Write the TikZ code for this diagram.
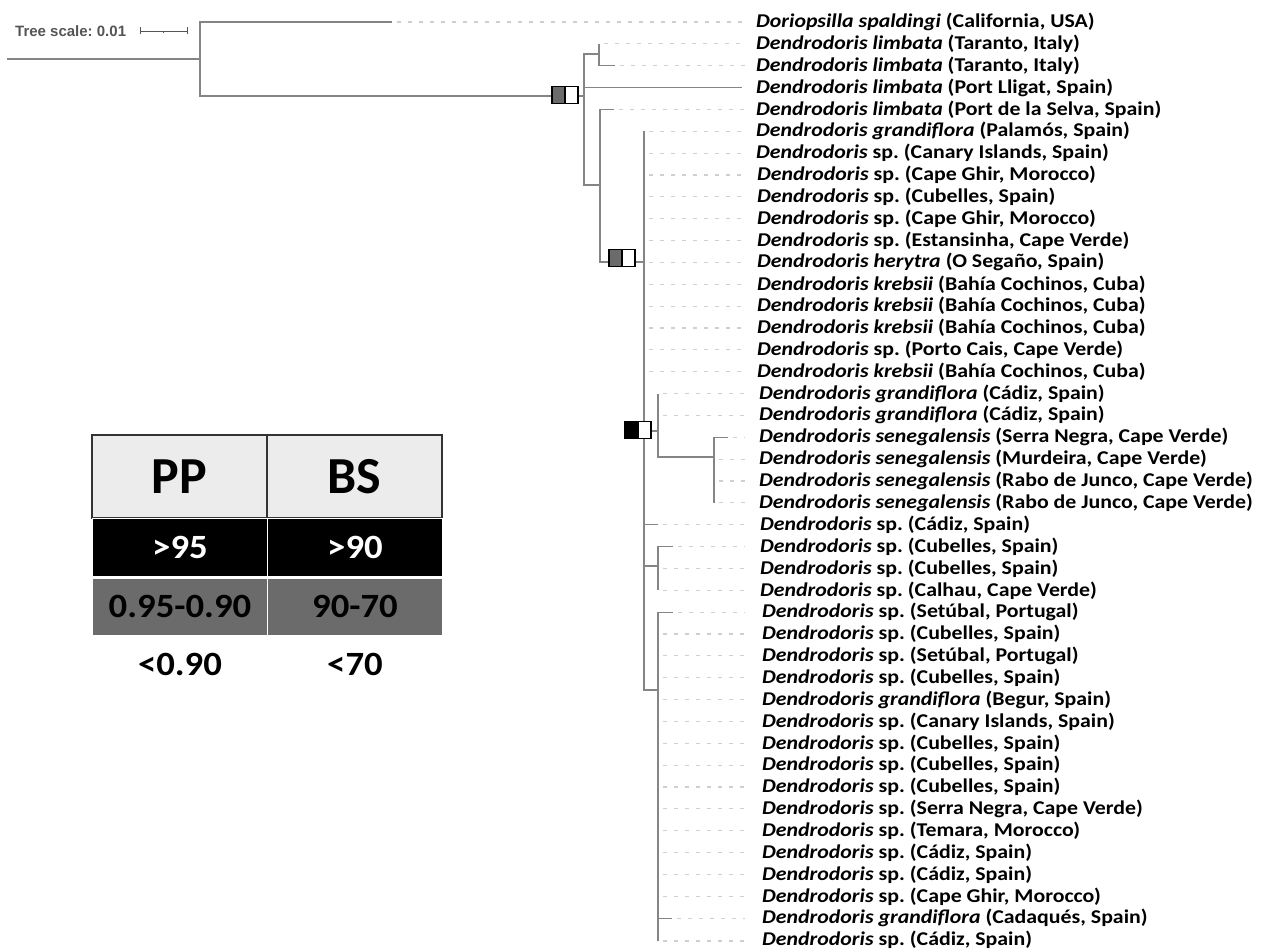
\documentclass[tikz,border=0pt]{standalone}
\usepackage{fontspec}
\setmainfont{Carlito}[BoldFont={Carlito Bold},ItalicFont={Carlito Italic},BoldItalicFont={Carlito Bold Italic}]
\newfontfamily\labfont{Carlito}[FakeStretch=1.12,BoldFont={Carlito Bold},ItalicFont={Carlito Italic},BoldItalicFont={Carlito Bold Italic}]
\newfontfamily\legfont{Carlito}[FakeStretch=1.08,BoldFont={Carlito Bold},ItalicFont={Carlito Italic},BoldItalicFont={Carlito Bold Italic}]
\newfontfamily\arialfont{Liberation Sans}[BoldFont={Liberation Sans Bold}]
\frenchspacing
\definecolor{treegray}{HTML}{858585}
\definecolor{leadgray}{HTML}{CFCFCF}
\definecolor{midgray}{HTML}{6B6B6B}
\definecolor{hdrgray}{HTML}{ECECEC}
\definecolor{scalegray}{HTML}{555555}
\newcommand\taxon[2]{\textit{#1} #2}
\begin{document}
\begin{tikzpicture}[x=1pt,y=-1pt,
  br/.style={draw=treegray,line width=1.2pt},
  lead/.style={draw=leadgray,line width=1.1pt,dash pattern=on 4pt off 7pt},
  lbl/.style={anchor=west,inner sep=0pt,font=\labfont\fontsize{19.5}{21}\selectfont\bfseries},
  half/.style={draw=black,line width=1.3pt,minimum width=13pt,minimum height=17pt,inner sep=0pt,outer sep=0pt},
  hdr/.style={draw=black!80,fill=hdrgray,line width=1.5pt,minimum width=175pt,minimum height=83pt,inner sep=0pt,font=\fontsize{52}{54}\selectfont\bfseries},
  blk/.style={draw=white,fill=black,text=white,line width=0.8pt,minimum width=175pt,minimum height=58pt,inner sep=0pt,font=\legfont\fontsize{34}{36}\selectfont\bfseries},
  gry/.style={draw=white,fill=midgray,text=black,line width=0.8pt,minimum width=175pt,minimum height=57pt,inner sep=0pt,font=\legfont\fontsize{34}{36}\selectfont\bfseries},
  plain/.style={inner sep=0pt,font=\legfont\fontsize{34}{36}\selectfont\bfseries}]
\useasboundingbox[fill=white] (0,0) rectangle (1276,952);

% ---- tree scale
\node[anchor=west,inner sep=0pt,text=scalegray,font=\arialfont\fontsize{15}{16}\selectfont\bfseries] (ts) at (15,31) {Tree scale: 0.01};
\coordinate (sa) at (140,31);
\coordinate (sb) at (187,31);
\draw[draw=scalegray,line width=0.9pt] (sa) -- (sb);
\draw[draw=scalegray,line width=0.9pt] ([yshift=-3.5pt]sa) -- ([yshift=3.5pt]sa);
\draw[draw=scalegray,line width=0.9pt] ([yshift=-3.5pt]sb) -- ([yshift=3.5pt]sb);
\draw[draw=scalegray,line width=0.9pt] (163.5,31) -- (163.5,33);

% ---- internal nodes
\coordinate (n0) at (7,59);
\coordinate (n1) at (200,59);
\coordinate (n2) at (584,96);
\coordinate (n3) at (599,54);
\coordinate (n4) at (600,185);
\coordinate (n5) at (644,262);
\coordinate (n6) at (658,431);
\coordinate (n7) at (714,457);
\coordinate (n8) at (658,566);
\coordinate (n9) at (658,690);

% ---- leaves
\coordinate (t1) at (392,22.0);
\coordinate (t2) at (599,43.9);
\coordinate (t3) at (615,65.7);
\coordinate (t4) at (742,87.6);
\coordinate (t5) at (614,109.4);
\coordinate (t6) at (644,131.3);
\coordinate (t7) at (644,153.1);
\coordinate (t8) at (644,175.0);
\coordinate (t9) at (644,196.9);
\coordinate (t10) at (644,218.7);
\coordinate (t11) at (644,240.6);
\coordinate (t12) at (644,262.4);
\coordinate (t13) at (644,284.3);
\coordinate (t14) at (644,306.1);
\coordinate (t15) at (644,328.0);
\coordinate (t16) at (644,349.9);
\coordinate (t17) at (644,371.7);
\coordinate (t18) at (658,393.6);
\coordinate (t19) at (658,415.4);
\coordinate (t20) at (728,437.3);
\coordinate (t21) at (714,459.1);
\coordinate (t22) at (714,481.0);
\coordinate (t23) at (714,502.9);
\coordinate (t24) at (658,524.7);
\coordinate (t25) at (673,546.6);
\coordinate (t26) at (658,568.4);
\coordinate (t27) at (658,590.3);
\coordinate (t28) at (673,612.1);
\coordinate (t29) at (658,634.0);
\coordinate (t30) at (658,655.9);
\coordinate (t31) at (658,677.7);
\coordinate (t32) at (658,699.6);
\coordinate (t33) at (658,721.4);
\coordinate (t34) at (658,743.3);
\coordinate (t35) at (658,765.1);
\coordinate (t36) at (658,787.0);
\coordinate (t37) at (658,808.9);
\coordinate (t38) at (658,830.7);
\coordinate (t39) at (658,852.6);
\coordinate (t40) at (658,874.4);
\coordinate (t41) at (658,896.3);
\coordinate (t42) at (672,918.1);
\coordinate (t43) at (658,941.0);
\coordinate (lx) at (745,0);

% ---- labels
\node[lbl] (l1) at (756,22.0) {\taxon{Doriopsilla spaldingi}{(California, USA)}};
\node[lbl] (l2) at (756,43.9) {\taxon{Dendrodoris limbata}{(Taranto, Italy)}};
\node[lbl] (l3) at (756,65.7) {\taxon{Dendrodoris limbata}{(Taranto, Italy)}};
\node[lbl] (l4) at (756,87.6) {\taxon{Dendrodoris limbata}{(Port Lligat, Spain)}};
\node[lbl] (l5) at (756,109.4) {\taxon{Dendrodoris limbata}{(Port de la Selva, Spain)}};
\node[lbl] (l6) at (756,131.3) {\taxon{Dendrodoris grandiflora}{(Palamós, Spain)}};
\node[lbl] (l7) at (756,153.1) {\taxon{Dendrodoris}{sp. (Canary Islands, Spain)}};
\node[lbl] (l8) at (757,175.0) {\taxon{Dendrodoris}{sp. (Cape Ghir, Morocco)}};
\node[lbl] (l9) at (757,196.9) {\taxon{Dendrodoris}{sp. (Cubelles, Spain)}};
\node[lbl] (l10) at (757,218.7) {\taxon{Dendrodoris}{sp. (Cape Ghir, Morocco)}};
\node[lbl] (l11) at (757,240.6) {\taxon{Dendrodoris}{sp. (Estansinha, Cape Verde)}};
\node[lbl] (l12) at (757,262.4) {\taxon{Dendrodoris herytra}{(O Segaño, Spain)}};
\node[lbl] (l13) at (757,284.3) {\taxon{Dendrodoris krebsii}{(Bahía Cochinos, Cuba)}};
\node[lbl] (l14) at (757,306.1) {\taxon{Dendrodoris krebsii}{(Bahía Cochinos, Cuba)}};
\node[lbl] (l15) at (757,328.0) {\taxon{Dendrodoris krebsii}{(Bahía Cochinos, Cuba)}};
\node[lbl] (l16) at (757,349.9) {\taxon{Dendrodoris}{sp. (Porto Cais, Cape Verde)}};
\node[lbl] (l17) at (757,371.7) {\taxon{Dendrodoris krebsii}{(Bahía Cochinos, Cuba)}};
\node[lbl] (l18) at (759,393.6) {\taxon{Dendrodoris grandiflora}{(Cádiz, Spain)}};
\node[lbl] (l19) at (759,415.4) {\taxon{Dendrodoris grandiflora}{(Cádiz, Spain)}};
\node[lbl] (l20) at (759,437.3) {\taxon{Dendrodoris senegalensis}{(Serra Negra, Cape Verde)}};
\node[lbl] (l21) at (759,459.1) {\taxon{Dendrodoris senegalensis}{(Murdeira, Cape Verde)}};
\node[lbl] (l22) at (759,481.0) {\taxon{Dendrodoris senegalensis}{(Rabo de Junco, Cape Verde)}};
\node[lbl] (l23) at (759,502.9) {\taxon{Dendrodoris senegalensis}{(Rabo de Junco, Cape Verde)}};
\node[lbl] (l24) at (760,524.7) {\taxon{Dendrodoris}{sp. (Cádiz, Spain)}};
\node[lbl] (l25) at (760,546.6) {\taxon{Dendrodoris}{sp. (Cubelles, Spain)}};
\node[lbl] (l26) at (760,568.4) {\taxon{Dendrodoris}{sp. (Cubelles, Spain)}};
\node[lbl] (l27) at (760,590.3) {\taxon{Dendrodoris}{sp. (Calhau, Cape Verde)}};
\node[lbl] (l28) at (762,612.1) {\taxon{Dendrodoris}{sp. (Setúbal, Portugal)}};
\node[lbl] (l29) at (762,634.0) {\taxon{Dendrodoris}{sp. (Cubelles, Spain)}};
\node[lbl] (l30) at (762,655.9) {\taxon{Dendrodoris}{sp. (Setúbal, Portugal)}};
\node[lbl] (l31) at (762,677.7) {\taxon{Dendrodoris}{sp. (Cubelles, Spain)}};
\node[lbl] (l32) at (762,699.6) {\taxon{Dendrodoris grandiflora}{(Begur, Spain)}};
\node[lbl] (l33) at (762,721.4) {\taxon{Dendrodoris}{sp. (Canary Islands, Spain)}};
\node[lbl] (l34) at (762,743.3) {\taxon{Dendrodoris}{sp. (Cubelles, Spain)}};
\node[lbl] (l35) at (762,765.1) {\taxon{Dendrodoris}{sp. (Cubelles, Spain)}};
\node[lbl] (l36) at (762,787.0) {\taxon{Dendrodoris}{sp. (Cubelles, Spain)}};
\node[lbl] (l37) at (762,808.9) {\taxon{Dendrodoris}{sp. (Serra Negra, Cape Verde)}};
\node[lbl] (l38) at (762,830.7) {\taxon{Dendrodoris}{sp. (Temara, Morocco)}};
\node[lbl] (l39) at (762,852.6) {\taxon{Dendrodoris}{sp. (Cádiz, Spain)}};
\node[lbl] (l40) at (762,874.4) {\taxon{Dendrodoris}{sp. (Cádiz, Spain)}};
\node[lbl] (l41) at (762,896.3) {\taxon{Dendrodoris}{sp. (Cape Ghir, Morocco)}};
\node[lbl] (l42) at (762,918.1) {\taxon{Dendrodoris grandiflora}{(Cadaqués, Spain)}};
\node[lbl] (l43) at (762,940.0) {\taxon{Dendrodoris}{sp. (Cádiz, Spain)}};

% ---- dashed leaders
\foreach \i in {1,2,3,5,6,7,8,9,10,11,12,13,14,15,16,17,18,19,20,21,22,23,24,25,26,27,28,29,30,31,32,33,34,35,36,37,38,39,40,41,42,43}{
  \draw[lead] ([xshift=5pt]t\i) -- (t\i -| lx);
}

% ---- branches
\draw[br] (n0) -- (n1);
\draw[br] (n1) |- (t1);
\draw[br] (n1) |- (n2);
\draw[br] (n2) |- (n3);
\draw[br] (n2) |- (t4);
\draw[br] (n2) |- (n4);
\draw[br] (n3) |- (t2);
\draw[br] (n3) |- (t3);
\draw[br] (n4) |- (t5);
\draw[br] (n4) |- (n5);
\foreach \i in {6,...,17}{ \draw[br] (n5) |- (t\i); }
\draw[br] (n5) |- (n6);
\draw[br] (n5) |- (t24);
\draw[br] (n5) |- (n8);
\draw[br] (n5) |- (n9);
\draw[br] (n6) |- (t18);
\draw[br] (n6) |- (t19);
\draw[br] (n6) |- (n7);
\foreach \i in {20,...,23}{ \draw[br] (n7) |- (t\i); }
\foreach \i in {25,...,27}{ \draw[br] (n8) |- (t\i); }
\foreach \i in {28,...,43}{ \draw[br] (n9) |- (t\i); }

% ---- support boxes
\node[half,fill=midgray] (b1l) at (558.5,95) {};
\node[half,fill=white] (b1r) at (571.5,95) {};
\node[half,fill=midgray] (b2l) at (615.5,258) {};
\node[half,fill=white] (b2r) at (628.5,258) {};
\node[half,fill=black] (b3l) at (631.5,430) {};
\node[half,fill=white] (b3r) at (644.5,430) {};

% ---- legend
\node[hdr] (pp) at (179.5,476.5) {PP};
\node[hdr] (bs) at (354.5,476.5) {BS};
\node[blk] (pp1) at (180,547) {>95};
\node[blk] (bs1) at (355,547) {>90};
\node[gry] (pp2) at (180,606.5) {0.95-0.90};
\node[gry] (bs2) at (355,606.5) {90-70};
\node[plain] (pp3) at (180,664) {<0.90};
\node[plain] (bs3) at (355,664) {<70};
\end{tikzpicture}
\end{document}
